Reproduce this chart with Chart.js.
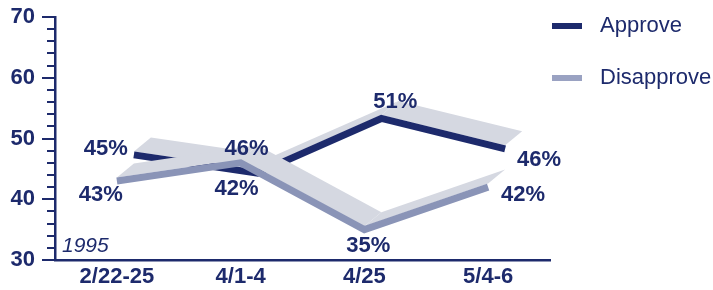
<!DOCTYPE html>
<html><head><meta charset="utf-8">
<script src="https://cdn.jsdelivr.net/npm/chart.js@4"></script>
<style>html,body{margin:0;padding:0;background:#fff}#wrap{width:713px;height:290px;position:relative}</style>
</head><body><div id="wrap"><canvas id="c" width="713" height="290"></canvas></div>
<script>
const categories = ['2/22-25', '4/1-4', '4/25', '5/4-6'];
const approve = [45, 42, 51, 46];
const disapprove = [43, 46, 35, 42];
const yTicks = [30, 40, 50, 60, 70];
const seriesNames = ['Approve', 'Disapprove'];
const yearNote = '1995';

const NAVY = '#1d2a6c';
const GRAYBLUE = '#8a94b7';
const LIGHT = '#d5d8e1';
const FONT = "'Liberation Sans', Arial, Helvetica, sans-serif";
const DEPTH = { x: 17, y: -14 };
const LINE_W = 7;
const labelOffsets = [
  [[-11, -20], [-4, 2], [31, -30], [51, -3]],
  [[-16, 14], [6, -14], [4, 16], [35, 8]]
];

const ribbon3d = {
  id: 'ribbon3d',
  beforeDatasetDraw(chart, args) {
    const ds = chart.data.datasets[args.index];
    const row = ds.row || 0;
    const ox = DEPTH.x * row, oy = DEPTH.y * row;
    const ctx = chart.ctx;
    const pts = args.meta.data;
    const hw = ds.borderWidth / 2;
    ctx.save();
    ctx.fillStyle = ds.topColor;
    for (let i = 0; i < pts.length - 1; i++) {
      const a = pts[i], b = pts[i + 1];
      ctx.beginPath();
      ctx.moveTo(a.x + ox, a.y + oy - hw);
      ctx.lineTo(b.x + ox, b.y + oy - hw);
      ctx.lineTo(b.x + ox + DEPTH.x, b.y + oy - hw + DEPTH.y);
      ctx.lineTo(a.x + ox + DEPTH.x, a.y + oy - hw + DEPTH.y);
      ctx.closePath();
      ctx.fill();
    }
    ctx.translate(ox, oy);
  },
  afterDatasetDraw(chart) { chart.ctx.restore(); },
  afterDatasetsDraw(chart) {
    const ctx = chart.ctx;
    ctx.save();
    ctx.font = 'bold 22px ' + FONT;
    ctx.fillStyle = NAVY;
    ctx.textAlign = 'center';
    ctx.textBaseline = 'middle';
    chart.data.datasets.forEach((ds, di) => {
      const meta = chart.getDatasetMeta(di);
      meta.data.forEach((p, i) => {
        const off = labelOffsets[di][i];
        ctx.fillText(ds.data[i] + '%', p.x + off[0], p.y + off[1]);
      });
    });
    ctx.restore();
  },
  afterDraw(chart) {
    const ctx = chart.ctx;
    const y = chart.scales.y;
    const left = chart.chartArea.left;
    ctx.save();
    ctx.strokeStyle = NAVY;
    ctx.lineWidth = 2;
    for (let v = y.min; v <= y.max; v += 2) {
      const py = Math.round(y.getPixelForValue(v));
      const len = (v % 10 === 0) ? 13 : 8;
      ctx.beginPath();
      ctx.moveTo(left - len, py);
      ctx.lineTo(left, py);
      ctx.stroke();
    }
    ctx.font = 'italic 21px ' + FONT;
    ctx.fillStyle = NAVY;
    ctx.textAlign = 'left';
    ctx.textBaseline = 'alphabetic';
    ctx.fillText(yearNote, left + 7, y.getPixelForValue(30) - 8);
    const lx = chart.chartArea.right + 2;
    const items = [
      { name: seriesNames[0], color: NAVY, y: 26 },
      { name: seriesNames[1], color: '#9aa2c2', y: 78 }
    ];
    ctx.font = '22px ' + FONT;
    ctx.textBaseline = 'middle';
    items.forEach(it => {
      ctx.fillStyle = it.color;
      ctx.fillRect(lx, it.y - 3, 30, 6);
      ctx.fillStyle = NAVY;
      ctx.fillText(it.name, lx + 48, it.y);
    });
    ctx.restore();
  }
};

new Chart(document.getElementById('c'), {
  type: 'line',
  data: {
    labels: categories,
    datasets: [
      { label: seriesNames[0], data: approve, borderColor: NAVY, topColor: LIGHT, row: 1,
        borderWidth: LINE_W, pointRadius: 0, tension: 0, borderCapStyle: 'butt',
        borderJoinStyle: 'miter', order: 2, clip: false, fill: false },
      { label: seriesNames[1], data: disapprove, borderColor: GRAYBLUE, topColor: LIGHT, row: 0,
        borderWidth: LINE_W, pointRadius: 0, tension: 0, borderCapStyle: 'butt',
        borderJoinStyle: 'miter', order: 1, clip: false, fill: false }
    ]
  },
  options: {
    responsive: false,
    animation: false,
    devicePixelRatio: 1,
    layout: { padding: { top: 17, right: 163, bottom: 0, left: 0 } },
    plugins: { legend: { display: false }, tooltip: { enabled: false } },
    scales: {
      x: {
        type: 'category', offset: true,
        grid: { display: false, drawTicks: false, tickLength: 0 },
        border: { display: true, color: NAVY, width: 2.5 },
        ticks: { font: { family: FONT, size: 22, weight: 'bold' }, color: NAVY, padding: 4, maxRotation: 0 },
        afterFit: s => { s.height = 30; }
      },
      y: {
        min: 30, max: 70,
        grid: { display: true, drawOnChartArea: false, drawTicks: true, tickLength: 18, tickColor: 'rgba(0,0,0,0)' },
        border: { display: true, color: NAVY, width: 2.5 },
        ticks: { font: { family: FONT, size: 22, weight: 'bold' }, color: NAVY, padding: 2 },
        afterBuildTicks: s => { s.ticks = yTicks.map(v => ({ value: v })); },
        afterFit: s => { s.width = 55; }
      }
    }
  },
  plugins: [ribbon3d]
});
</script>
</body></html>
